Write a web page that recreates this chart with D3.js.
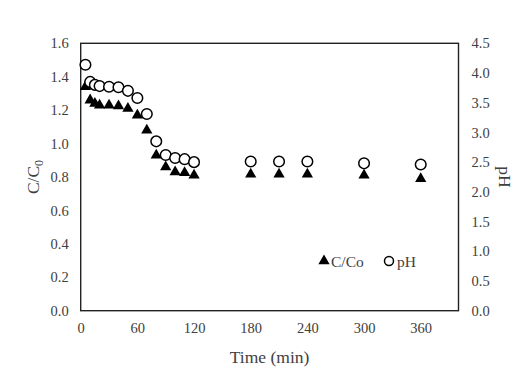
<!DOCTYPE html>
<html>
<head>
<meta charset="utf-8">
<script src="https://cdn.jsdelivr.net/npm/d3@7"></script>
<style>
  body { margin: 0; background: #fff; }
  text { font-family: 'Liberation Serif', 'Times New Roman', serif; fill: #404040; }
</style>
</head>
<body>
<div id="chart"></div>
<script>
// time in minutes
const times = [5, 10, 15, 20, 30, 40, 50, 60, 70, 80, 90, 100, 110, 120, 180, 210, 240, 300, 360];
const ratio = [1.34, 1.26, 1.24, 1.23, 1.23, 1.225, 1.21, 1.17, 1.08, 0.93, 0.86, 0.83, 0.826, 0.81, 0.816, 0.816, 0.816, 0.81, 0.79];
const ph = [4.14, 3.85, 3.8, 3.78, 3.77, 3.76, 3.7, 3.58, 3.31, 2.85, 2.62, 2.57, 2.55, 2.5, 2.51, 2.51, 2.51, 2.48, 2.46];
const xTicks = [0, 60, 120, 180, 240, 300, 360];
const yLeftTicks = [0, 0.2, 0.4, 0.6, 0.8, 1.0, 1.2, 1.4, 1.6];
const yRightTicks = [0, 0.5, 1.0, 1.5, 2.0, 2.5, 3.0, 3.5, 4.0, 4.5];

const size = { width: 525, height: 377 };
const margin = { top: 43.3, right: 66.5, bottom: 66.3, left: 80.7 };

const svg = d3.select('#chart').append('svg')
  .attr('width', size.width)
  .attr('height', size.height);

const x = d3.scaleLinear().domain([0, 400]).range([margin.left, size.width - margin.right]);
const yL = d3.scaleLinear().domain([0, 1.6]).range([size.height - margin.bottom, margin.top]);
const yR = d3.scaleLinear().domain([0, 4.5]).range([size.height - margin.bottom, margin.top]);

const data = times.map((t, i) => ({ t, c: ratio[i], ph: ph[i] }));

// Axes (labels only, no tick marks)
const fontSize = '14.5px';
svg.append('g')
  .attr('transform', `translate(0, ${size.height - margin.bottom})`)
  .call(d3.axisBottom(x).tickValues(xTicks).tickSize(0).tickPadding(12))
  .call((g) => g.select('.domain').remove())
  .selectAll('text').style('font-size', fontSize).attr('fill', '#404040');

svg.append('g')
  .attr('transform', `translate(${margin.left}, 0)`)
  .call(d3.axisLeft(yL).tickValues(yLeftTicks).tickFormat(d3.format('.1f')).tickSize(0).tickPadding(12))
  .call((g) => g.select('.domain').remove())
  .selectAll('text').style('font-size', fontSize).attr('fill', '#404040');

svg.append('g')
  .attr('transform', `translate(${size.width - margin.right}, 0)`)
  .call(d3.axisRight(yR).tickValues(yRightTicks).tickFormat(d3.format('.1f')).tickSize(0).tickPadding(13))
  .call((g) => g.select('.domain').remove())
  .selectAll('text').style('font-size', fontSize).attr('fill', '#404040');

// plot frame
svg.append('rect')
  .attr('x', margin.left)
  .attr('y', margin.top)
  .attr('width', size.width - margin.left - margin.right)
  .attr('height', size.height - margin.top - margin.bottom)
  .attr('fill', 'none')
  .attr('stroke', '#222')
  .attr('stroke-width', 1.4);

// Axis titles
svg.append('text')
  .attr('x', (margin.left + size.width - margin.right) / 2)
  .attr('y', 363)
  .attr('text-anchor', 'middle')
  .style('font-size', '17.5px')
  .text('Time (min)');

const leftTitle = svg.append('text')
  .attr('transform', `translate(39, ${(margin.top + size.height - margin.bottom) / 2}) rotate(-90)`)
  .attr('text-anchor', 'middle')
  .style('font-size', '17.5px');
leftTitle.append('tspan').text('C/C');
leftTitle.append('tspan').attr('dy', 4).style('font-size', '12px').text('0');

svg.append('text')
  .attr('transform', `translate(499, ${(margin.top + size.height - margin.bottom) / 2}) rotate(90)`)
  .attr('text-anchor', 'middle')
  .style('font-size', '17.5px')
  .text('pH');

// Markers
const tri = d3.symbol().type(d3.symbolTriangle).size(55);

svg.append('g')
  .selectAll('path')
  .data(data)
  .enter()
  .append('path')
  .attr('d', tri)
  .attr('transform', (d) => `translate(${x(d.t)}, ${yL(d.c)})`)
  .attr('fill', '#000');

svg.append('g')
  .selectAll('circle')
  .data(data)
  .enter()
  .append('circle')
  .attr('cx', (d) => x(d.t))
  .attr('cy', (d) => yR(d.ph))
  .attr('r', 5.3)
  .attr('fill', '#fff')
  .attr('stroke', '#000')
  .attr('stroke-width', 1.5);

// Legend
const legend = svg.append('g').attr('transform', 'translate(324, 261)');
legend.append('path').attr('d', tri).attr('fill', '#000');
legend.append('text').attr('x', 7).attr('y', 5.5).style('font-size', '15.5px').text('C/Co');
legend.append('circle').attr('cx', 65).attr('cy', 0).attr('r', 4.5)
  .attr('fill', '#fff').attr('stroke', '#000').attr('stroke-width', 1.5);
legend.append('text').attr('x', 73).attr('y', 5.5).style('font-size', '15.5px').text('pH');
</script>
</body>
</html>
